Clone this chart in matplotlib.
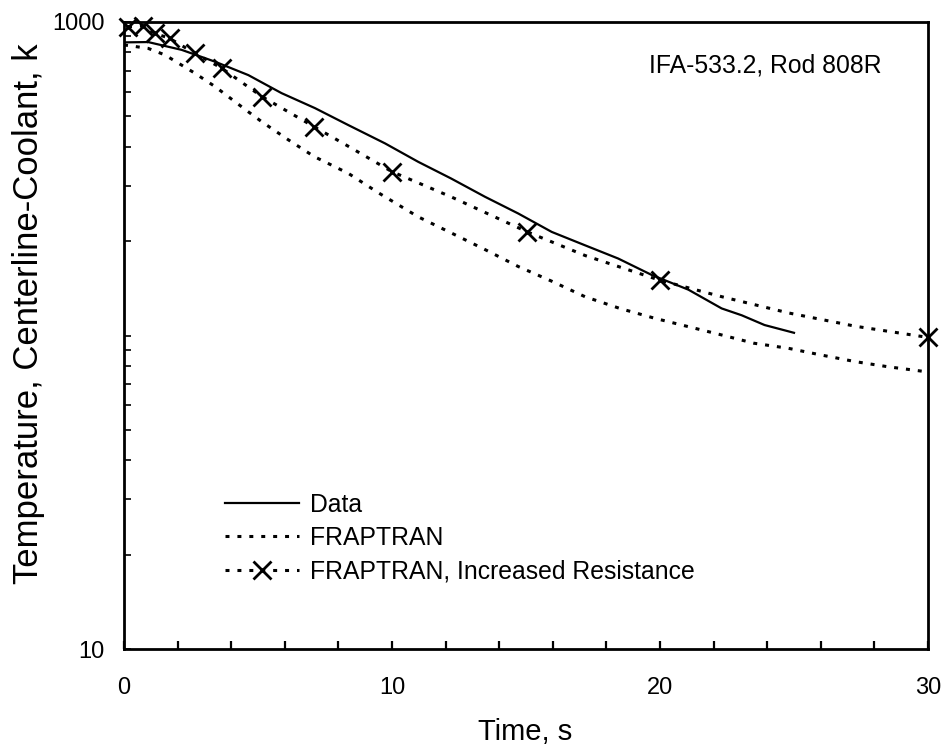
import matplotlib
matplotlib.use("Agg")
import matplotlib.pyplot as plt
from matplotlib.ticker import FixedLocator, FixedFormatter, LogLocator, NullFormatter, MultipleLocator

plt.rcParams['font.family'] = ['Liberation Sans', 'DejaVu Sans']

# Measured centerline-to-coolant temperature difference (K)
data_t = [0, 0.9, 2.15, 3.4, 4.64, 5.88, 7.13, 8.37, 9.74, 10.98, 12.2, 13.47,
          14.71, 15.96, 17.2, 18.44, 19.69, 21.06, 22.3, 23.05, 23.9, 25.0]
data_T = [861, 863, 815, 747, 677, 593, 531, 469, 410, 358, 317, 277,
          245, 214, 194, 176, 156, 140, 122, 116, 108, 102]

# FRAPTRAN calculation
frap_t = [0, 0.9, 1.53, 2.65, 3.4, 4.6, 5.15, 6.13, 7.1, 8.37, 9.5, 10.98,
          12.23, 13.47, 14.71, 15.96, 17.2, 18.5, 19.8, 21.06, 22.3, 23.5,
          24.8, 26.0, 27.3, 28.5, 30.0]
frap_T = [845, 824, 785, 686, 622, 520, 480, 421, 372, 329, 285, 239,
          212, 188, 166, 149, 133, 122, 113.5, 106.7, 100.4, 94.5,
          91, 86.7, 82.5, 79.5, 76.5]

# FRAPTRAN with increased gap resistance (x marks at output times)
inc_t = [0.15, 0.7, 1.15, 1.7, 2.65, 3.65, 5.15, 7.1, 8.4, 10.0, 12.2, 15.05,
         17.2, 20.0, 22.3, 24.8, 27.3, 30.0]
inc_T = [966, 971, 920, 887, 794, 712, 578, 463, 400, 333, 277, 214,
         180, 150, 133, 118, 107, 98.6]
inc_marks = [0, 1, 2, 3, 4, 5, 6, 7, 9, 11, 13, 17]

series_labels = ["Data", "FRAPTRAN", "FRAPTRAN, Increased Resistance"]
x_ticks = [0, 10, 20, 30]
y_ticks = [10, 100, 1000]
y_tick_labels = ["10", "", "1000"]

fig = plt.figure(figsize=(9.42, 7.47), dpi=100)
ax = fig.add_axes([124 / 942, 1 - 649 / 747, 804 / 942, 627 / 747])

dots = (0, (1.3, 2.6))
ax.plot(data_t, data_T, color='black', lw=1.6, label=series_labels[0])
ax.plot(frap_t, frap_T, color='black', lw=2.2, linestyle=dots,
        label=series_labels[1])
ax.plot(inc_t, inc_T, color='black', lw=2.2, linestyle=dots,
        marker='x', markersize=13, markeredgewidth=2.0,
        markevery=inc_marks, clip_on=False, label=series_labels[2])

ax.set_yscale('log')
ax.set_xlim(0, 30)
ax.set_ylim(10, 1000)

ax.xaxis.set_major_locator(FixedLocator(x_ticks))
ax.xaxis.set_minor_locator(MultipleLocator(2))
ax.yaxis.set_major_locator(FixedLocator(y_ticks))
ax.yaxis.set_major_formatter(FixedFormatter(y_tick_labels))
ax.yaxis.set_minor_locator(LogLocator(base=10, subs=range(2, 10)))
ax.yaxis.set_minor_formatter(NullFormatter())

ax.tick_params(axis='x', which='both', direction='in', length=6, width=1.6,
               labelsize=17, pad=20, top=False)
ax.tick_params(axis='y', which='both', direction='in', length=5, width=1.2,
               labelsize=17, pad=14, right=False)

for s in ax.spines.values():
    s.set_linewidth(2.0)

ax.set_xlabel("Time, s", fontsize=21)
ax.xaxis.set_label_coords(0.4988, -0.133)
ax.xaxis.label.set_verticalalignment('center')
ax.set_ylabel("Temperature, Centerline-Coolant, k", fontsize=25)
ax.yaxis.set_label_coords(-0.119, 0.535)
ax.yaxis.label.set_verticalalignment('center')

ax.text(0.653, 0.931, "IFA-533.2, Rod 808R", transform=ax.transAxes,
        fontsize=17.8, ha='left', va='center')

leg = ax.legend(loc='upper left', bbox_to_anchor=(0.1256, 0.249),
                frameon=False, fontsize=17.8, handlelength=3.0,
                handletextpad=0.45, labelspacing=0.37, borderpad=0,
                borderaxespad=0)

fig.savefig("out.png", dpi=100)
